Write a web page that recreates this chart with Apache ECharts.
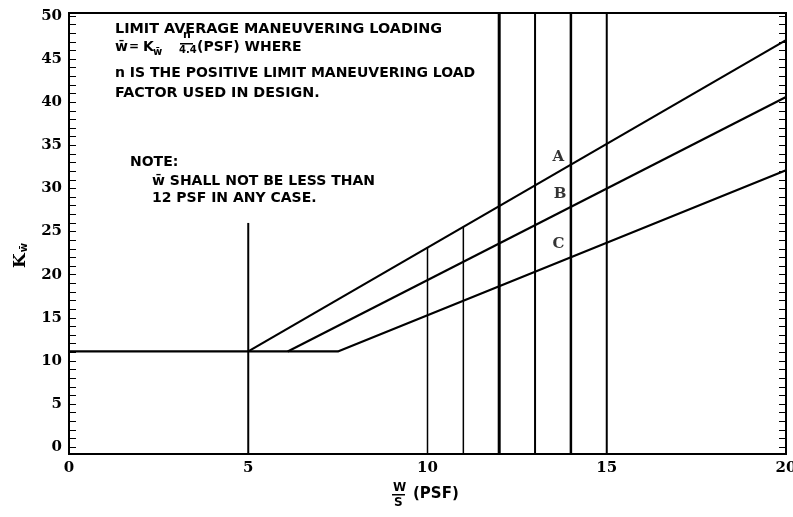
<!DOCTYPE html>
<html>
<head>
<meta charset="utf-8">
<script src="https://cdn.jsdelivr.net/npm/echarts@6/dist/echarts.min.js"></script>
<style>
html,body{margin:0;padding:0;background:#fff;}
#c{width:793px;height:517px;}
</style>
</head>
<body>
<div id="c"></div>
<script>
// ---- data ----
const xTickLabels = [0, 5, 10, 15, 20];
const yTickLabels = [0, 5, 10, 15, 20, 25, 30, 35, 40, 45, 50];
const curveNames = ['A', 'B', 'C'];
const curveA = [[5, 11.1], [20, 47.2]];
const curveB = [[6.1, 11.1], [20, 40.6]];
const curveC = [[0, 11.1], [7.5, 11.1], [20, 32.1]];
const curveLabelPos = [[13.65, 33.6], [13.7, 29.4], [13.65, 23.6]];
const refWS = [5, 10, 11, 12, 13, 14, 15];
const refTop = [26.0, 23.2, 25.6, 50.35, 50.35, 50.35, 50.35];
const refWidth = [2, 1.5, 1.5, 3, 2, 2.5, 2];

const minorTicks = [];
for (let v = 0; v <= 50; v += 1) minorTicks.push(v);

const chart = echarts.init(document.getElementById('c'), null, {renderer: 'canvas'});

const series = [];
[curveA, curveB, curveC].forEach((d, i) => {
  series.push({
    type: 'line', name: curveNames[i], data: d, symbol: 'none',
    lineStyle: {color: '#000', width: 2.2}, silent: true, z: 3
  });
});
refWS.forEach((x, i) => {
  series.push({
    type: 'line', data: [[x, -0.8], [x, refTop[i]]], symbol: 'none',
    lineStyle: {color: '#000', width: refWidth[i]}, silent: true, z: 2
  });
});
series.push({
  type: 'scatter', symbolSize: 0,
  data: curveLabelPos.map((p, i) => ({value: p, name: curveNames[i]})),
  label: {show: true, position: 'inside', formatter: '{b}', color: '#000',
    fontFamily: 'DejaVu Serif', fontWeight: 'bold', fontSize: 15},
  silent: true, z: 5
});

const txt = (x, y, s, size, fam) => ({
  type: 'text', left: x, top: y,
  style: {text: s, fill: '#000', font: 'bold ' + size + 'px "' + (fam || 'DejaVu Sans') + '"'}
});

const option = {
  backgroundColor: '#fff',
  animation: false,
  grid: {left: 69, right: 7, top: 13, bottom: 63, show: true, borderColor: '#000', borderWidth: 2, outerBoundsMode: 'none'},
  xAxis: {
    type: 'value', min: 0, max: 20, interval: 5,
    axisLine: {show: true, onZero: false, lineStyle: {color: '#000', width: 2}},
    axisTick: {show: false},
    splitLine: {show: false},
    axisLabel: {color: '#000', fontFamily: 'DejaVu Serif', fontWeight: 'bold', fontSize: 15, margin: 7,
      customValues: xTickLabels}
  },
  yAxis: [{
    type: 'value', min: -0.8, max: 50.35, position: 'left',
    axisLine: {show: true, onZero: false, lineStyle: {color: '#000', width: 2}},
    axisTick: {show: true, inside: true, length: 7, customValues: minorTicks, lineStyle: {color: '#000', width: 1}},
    splitLine: {show: false},
    axisLabel: {color: '#000', fontFamily: 'DejaVu Serif', fontWeight: 'bold', fontSize: 15, margin: 7,
      customValues: yTickLabels}
  }, {
    type: 'value', min: -0.8, max: 50.35, position: 'right',
    axisLine: {show: true, onZero: false, lineStyle: {color: '#000', width: 2}},
    axisTick: {show: true, inside: true, length: 7, customValues: minorTicks, lineStyle: {color: '#000', width: 1}},
    splitLine: {show: false},
    axisLabel: {show: false}
  }],
  series: series,
  graphic: [
    txt(115, 22, 'LIMIT AVERAGE MANEUVERING LOADING', 14.4),
    txt(115, 40, 'w\u0304', 14),
    txt(129, 41, '=', 12),
    txt(143, 40, 'K', 14),
    txt(153, 47, 'w\u0304', 10),
    txt(183, 30, 'n', 11),
    {type: 'rect', left: 180, top: 43, shape: {width: 13, height: 1.5}, style: {fill: '#000'}},
    txt(179, 45, '4.4', 10),
    txt(197, 40, '(PSF) WHERE', 14),
    txt(115, 66, 'n IS THE POSITIVE LIMIT MANEUVERING LOAD', 14),
    txt(115, 86, 'FACTOR USED IN DESIGN.', 14.3),
    txt(130, 155, 'NOTE:', 14),
    txt(152, 174, 'w\u0304 SHALL NOT BE LESS THAN', 14),
    txt(152, 191, '12 PSF IN ANY CASE.', 14),
    // y-axis name
    {type: 'text', left: 12, top: 243, rotation: Math.PI / 2, originX: 0, originY: 0,
      style: {text: '{k|K}{s|w\u0304}', fill: '#000',
        rich: {k: {font: 'bold 17px "DejaVu Serif"', fill: '#000'}, s: {font: 'bold 10px "DejaVu Sans"', fill: '#000', padding: [8, 0, 0, 1]}}}},
    // x-axis name
    txt(393, 482, 'W', 12),
    {type: 'rect', left: 392, top: 494, shape: {width: 13, height: 1.5}, style: {fill: '#000'}},
    txt(394, 497, 'S', 12),
    txt(413, 487, '(PSF)', 15)
  ]
};
chart.setOption(option);
</script>
</body>
</html>
